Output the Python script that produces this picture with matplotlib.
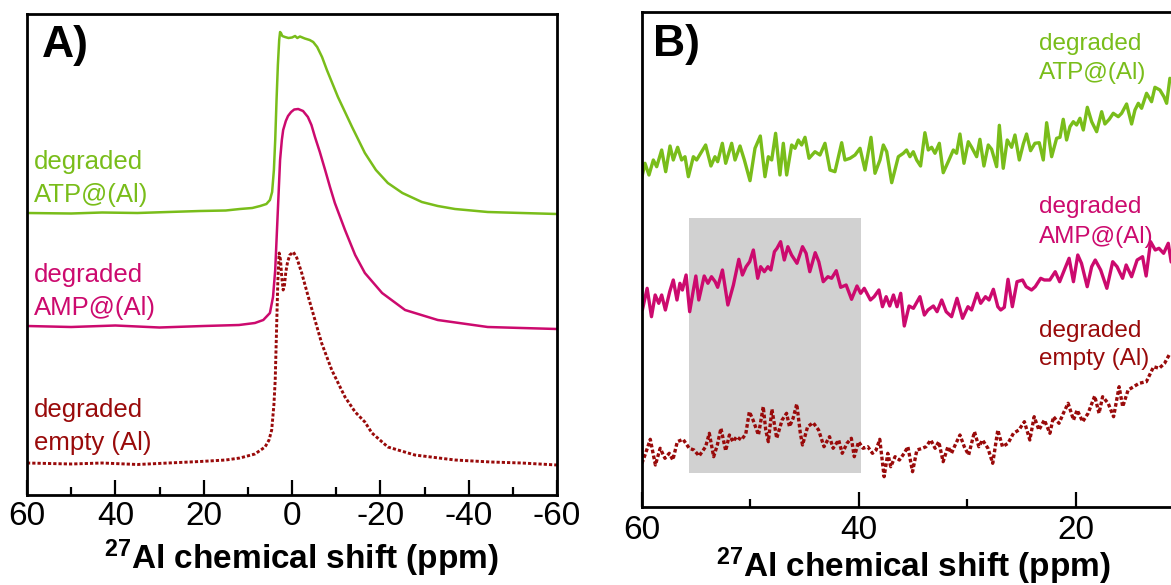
import matplotlib
matplotlib.use("Agg")
import matplotlib.pyplot as plt
from matplotlib.patches import Rectangle
from matplotlib.ticker import MultipleLocator

plt.rcParams['font.family'] = ['Liberation Sans', 'DejaVu Sans']
plt.rcParams['mathtext.fontset'] = 'custom'
plt.rcParams['mathtext.rm'] = 'Liberation Sans'
plt.rcParams['mathtext.bf'] = 'Liberation Sans:bold'
plt.rcParams['lines.solid_joinstyle'] = 'round'
plt.rcParams['lines.solid_capstyle'] = 'round'

# ---------------- colours ----------------
c_atp = '#79BD1A'
c_amp = '#CC0A6E'
c_emp = '#990A0A'

# ---------------- Panel A data (ppm, intensity incl. stacking offset) ----------------
a_atp_ppm = [60, 50, 43, 35, 28, 20.8, 15, 11.8, 9, 7.2, 5.8, 5.0, 4.5, 4.1, 3.8, 3.5, 3.2, 2.9,
             2.7, 2.5, 2.2, 1.6, 0.8, 0.0, -0.7, -1.2, -1.8, -2.9, -4.0, -4.8, -5.7, -6.8, -7.9,
             -10.4, -13.6, -16.5, -19.0, -21.7, -25.0, -29.4, -33, -36.9, -44.3, -52, -60]
a_atp_int = [282, 281.5, 282.5, 282, 283, 284, 284.5, 286, 287, 289, 291, 295, 303, 325, 355, 395, 430, 455,
             463, 462, 459, 458, 457, 457.5, 459, 457, 458.5, 456.5, 455, 453, 448, 438, 425,
             398, 368, 342, 325, 312, 302, 293, 289, 286, 283, 282, 281]

a_amp_ppm = [60, 50, 40, 30, 20, 12, 8.4, 6.5, 5.0, 4.3, 3.8, 3.5, 3.2, 2.7, 2.3, 2.0, 1.4, 0.9, 0.2,
             -0.5, -1.4, -2.5, -3.6, -4.4, -5.2, -6.3, -7.5, -8.6, -9.7, -12.0, -14.3, -16.5, -20.4,
             -25.6, -33.0, -44.3, -52, -60]
a_amp_int = [169, 168, 169.5, 167.5, 169, 170, 172, 175, 182, 198, 225, 255, 285, 335, 355, 365, 374, 379, 383,
             385.5, 386, 384, 378, 370, 358, 343, 325, 308, 292, 265, 240, 222, 202,
             185, 175, 168, 167, 166]

a_emp_ppm = [60, 50, 43, 35, 28, 20.8, 15, 11.8, 8.4, 6.1, 5.2, 4.6, 4.1, 3.8, 3.5, 3.2, 2.9, 2.6, 2.3,
             2.0, 1.7, 1.4, 1.0, 0.5, -0.3, -1.1, -2.2, -3.7, -5.2, -6.7, -9.0, -12.0, -14.3, -16.5,
             -18.1, -21.7, -27.8, -36.9, -45, -52, -60]
a_emp_int = [32, 31, 32, 30.5, 32, 33.5, 35, 37, 41, 48, 55, 65, 90, 115, 165, 215, 242, 235, 217,
             205, 210, 223, 233, 240, 243, 237, 222, 198, 175, 152, 125, 98, 83, 73,
             62, 48, 40, 35, 33, 32, 30]

# ---------------- Panel B data (zoomed region) ----------------
b_atp_ppm = [59.99, 59.68, 59.31, 58.91, 58.6, 58.14, 57.77, 57.37, 57.07, 56.67, 56.3, 55.99, 55.68, 55.22,
             54.92, 54.09, 53.6, 53.23, 52.98, 52.55, 52.24, 51.69, 51.38, 50.92, 50.52, 50.0, 49.54,
             49.05, 48.62, 48.31, 48.0, 47.64, 47.24, 46.93, 46.62, 46.16, 45.85, 45.55, 45.24, 44.93,
             44.56, 44.01, 43.55, 43.09, 42.63, 42.17, 41.55, 41.25, 40.78, 40.32, 39.86, 39.4, 38.85,
             38.48, 38.02, 37.71, 37.4, 36.94, 36.33, 35.87,
             35.57, 35.26, 34.95, 34.64, 34.28, 33.88, 33.57, 33.26, 32.95, 32.55, 32.19, 31.73, 31.26,
             30.96, 30.65, 30.28, 29.88, 29.57, 29.11, 28.81, 28.44, 28.04, 27.73, 27.27, 27.02, 26.66,
             26.29, 25.89, 25.58, 25.18, 24.81, 24.51, 24.14, 23.74, 23.34, 22.97, 22.66, 22.2, 21.74,
             21.43, 21.13, 20.82, 20.51, 20.2, 19.9, 19.59, 19.28, 18.91, 18.51, 18.05, 17.59, 17.29,
             16.89, 16.52, 16.06, 15.75, 15.29, 14.83, 14.52, 14.21, 13.91, 13.45, 12.99, 12.68, 12.22,
             11.85, 11.6, 11.3]
b_atp_int = [328.7, 343.7, 332, 347, 340.3, 357, 335.3, 361, 347, 359.7, 347, 350.3, 330.3, 350.3,
             347, 362, 341, 350.3, 345.3, 363.7, 343.7, 363.7, 347, 361, 347, 326.3, 358.7,
             371, 330.3, 350.3, 347, 373.7, 332, 363.7, 332, 362, 358.7, 367, 362, 369.7,
             348.7, 355.3, 352, 363.7, 337, 335.3, 364.3, 347, 348.7, 352, 358.7, 337, 369.7,
             333.7, 347, 362, 355.3, 324.3, 350.3, 353.7,
             357, 350.3, 355.3, 347, 341, 374.3, 357, 359.7, 353.7, 363.7, 334.3, 345.3, 357,
             353.7, 373, 343.7, 365.3, 359.7, 350.3, 367.7, 341, 362, 357.7, 340.3, 381.7, 338.7,
             367, 359.7, 372, 347, 363, 373, 356.3, 363.7, 364.3, 347, 384.3, 350.3, 368.7,
             369.7, 387.7, 367, 380.3, 385.3, 382, 388.7, 377, 399.7, 385.3, 375.3, 395.3, 383,
             387.7, 393.7, 390.3, 393.7, 403, 383, 397, 403.7, 398.7, 413.7, 405.3, 419.7, 417,
             410.3, 403.7, 428.7]

b_amp_ppm = [59.92, 59.48, 59.08, 58.74, 58.41, 58.14, 57.8, 57.4, 57.07, 56.73, 56.46, 56.23, 55.89, 55.56,
             55.22, 54.99, 54.72, 54.22, 53.88, 53.55, 53.21, 52.98, 52.54, 52.04, 51.53, 51.03, 50.7,
             50.36, 50.03, 49.69, 49.29, 49.02, 48.68, 48.35, 48.08, 47.75, 47.51, 47.18, 46.84, 46.51,
             46.17, 45.67, 45.16, 44.83, 44.49, 43.99, 43.66, 43.25, 42.82, 42.48, 42.05, 41.64, 41.14,
             40.64, 40.14, 39.8, 39.47, 38.9, 38.56, 38.12, 37.79, 37.45, 37.12, 36.78, 36.45, 36.11,
             35.78, 35.34, 34.94, 34.34, 33.93, 33.6, 33.1, 32.76, 32.33, 31.92, 31.42, 30.92, 30.41,
             29.91, 29.58, 29.07, 28.74, 28.3, 27.97, 27.57, 27.16, 26.89, 26.56, 26.22, 25.82, 25.39,
             24.88, 24.55, 24.05, 23.71, 23.21, 22.87, 22.37, 21.87, 21.46, 21.03, 20.59, 20.19, 19.79,
             19.45, 18.92, 18.51, 18.18, 17.68, 17.11, 16.57, 16.17, 15.66, 15.33, 14.83, 14.32, 13.82,
             13.49, 13.08, 12.65, 12.31, 11.88, 11.45, 11.18]
b_amp_int = [197, 218.7, 190.3, 212, 203.7, 212, 197, 215.3, 227, 207, 223.7, 217, 232, 195.3,
             217, 231, 207, 231, 223.7, 230.3, 225.3, 219.7, 237, 202, 222, 247.7, 232,
             240.3, 245.3, 257, 228.7, 240.3, 235.3, 240.3, 237, 255.3, 258.7, 265.3, 247, 260.3,
             252, 243.7, 260.3, 253.7, 235.3, 254.3, 245.3, 225.3, 230.3, 228.7, 236.3, 219.7, 222,
             207.7, 221, 213.7, 218.7, 207, 210.3, 217, 200.3, 210.3, 201, 212, 200.3, 213.7,
             181, 201, 198.7, 210.3, 192, 197, 201, 195.3, 207, 195.3, 190.3, 208.7, 188.7,
             200.3, 197, 213.7, 203.7, 210.3, 207, 217.7, 200.3, 197, 199.7, 227.7, 200.3, 225.3,
             227, 220.3, 217, 220.3, 228.7, 227, 227, 235.3, 225.3, 237, 248.7, 225.3, 252,
             243.7, 220.3, 240.3, 247, 237, 218.7, 245.3, 240.3, 228.7, 242, 230.3, 247, 250.3,
             231, 265.3, 257, 258.7, 253.7, 263.7, 245]

b_emp_ppm = [59.96, 59.62, 59.19, 58.72, 58.28, 57.84, 57.44, 57.11, 56.7, 56.17, 55.6, 55.16, 54.69, 54.09,
             53.75, 53.35, 53.01, 52.68, 52.24, 51.9, 51.57, 51.23, 50.8, 50.39, 50.06, 49.72, 49.22,
             48.78, 48.55, 48.31, 47.98, 47.54, 47.04, 46.63, 46.36, 46.03, 45.69, 45.36, 45.16, 44.69,
             44.18, 43.68, 43.18, 42.67, 42.34, 41.83, 41.5, 41.06, 40.66, 40.39, 39.99, 39.58, 39.15,
             38.71, 38.38, 38.04, 37.64, 37.3, 37.03, 36.63, 36.23, 35.79, 35.45, 35.02, 34.62, 34.11,
             33.78, 33.34, 32.94, 32.6, 32.2, 31.76, 31.43, 31.09, 30.65, 30.25, 29.85, 29.31, 28.91,
             28.57, 28.07, 27.63, 27.16, 26.73, 26.22, 25.72, 25.22, 24.71, 24.21, 23.81, 23.37, 22.87,
             22.36, 22.03, 21.52, 21.12, 20.68, 20.18, 19.85, 19.34, 18.84, 18.23, 17.83, 17.5, 16.99,
             16.49, 15.98, 15.65, 15.15, 14.64, 14.14, 13.47, 12.8, 12.29, 11.79, 11.29]
b_emp_int = [43.7, 53.7, 67.7, 42, 58.7, 48.7, 53.7, 47, 65.3, 67.7, 58.7, 57, 51, 60.3,
             73.7, 50.3, 62, 78.7, 56.3, 72, 65.3, 70.3, 67, 73, 95.3, 87, 72,
             100.3, 77, 65.3, 97.7, 68.7, 87, 93.7, 80.3, 88.7, 103, 73.7, 62, 80.3,
             84.3, 77, 60.3, 70.3, 58.7, 67, 53.7, 63.7, 68.7, 50.3, 65.3, 58.7, 60.3,
             53.7, 57, 67.7, 30.3, 53.7, 40.3, 50.3, 47, 53.7, 60.3, 35.3, 57, 58.7,
             60.3, 67, 58.7, 65.3, 45.3, 60.3, 53.7, 62, 72, 60.3, 52, 75.3, 60.3,
             67, 58.7, 43.7, 77, 60.3, 63.7, 73.7, 77, 85.3, 67, 90.3, 77, 87,
             73.7, 90.3, 83.7, 93.7, 103.7, 87, 97, 85.3, 93.7, 111, 93.7, 110.3, 103.7,
             90.3, 120.3, 100.3, 117, 120.3, 123.7, 125.3, 140.3, 138.7, 143.7, 153.7]

highlight_ppm = (55.6, 39.8)
highlight_int = (34, 289)

labels = [("degraded", "ATP@(Al)", c_atp),
          ("degraded", "AMP@(Al)", c_amp),
          ("degraded", "empty (Al)", c_emp)]

W, H = 1171, 585
fig = plt.figure(figsize=(W / 100, H / 100), dpi=100)

# axes rectangles in pixels (left, top, right, bottom)
axA = fig.add_axes([27 / W, 1 - 495 / H, 530 / W, 481 / H])
axB = fig.add_axes([641.5 / W, 1 - 507 / H, 542.5 / W, 495 / H])

dots = (0, (1.1, 0.7))

axA.plot(a_atp_ppm, a_atp_int, color=c_atp, lw=1.8)
axA.plot(a_amp_ppm, a_amp_int, color=c_amp, lw=1.8)
axA.plot(a_emp_ppm, a_emp_int, color=c_emp, lw=2.1, linestyle=dots)
axA.set_xlim(60, -60)
axA.set_ylim(0, 481)

axB.add_patch(Rectangle((highlight_ppm[1], highlight_int[0]), highlight_ppm[0] - highlight_ppm[1],
                        highlight_int[1] - highlight_int[0], facecolor='#D1D1D1', edgecolor='none', zorder=0))
axB.plot(b_atp_ppm, b_atp_int, color=c_atp, lw=2.4)
axB.plot(b_amp_ppm, b_amp_int, color=c_amp, lw=2.4)
axB.plot(b_emp_ppm, b_emp_int, color=c_emp, lw=2.4, linestyle=dots)
axB.set_xlim(60, 10)
axB.set_ylim(0, 495)

for ax in (axA, axB):
    ax.xaxis.set_major_locator(MultipleLocator(20))
    ax.xaxis.set_minor_locator(MultipleLocator(10))
    ax.set_yticks([])
    ax.tick_params(axis='x', which='major', direction='in', length=11, width=1.6, labelsize=24, pad=4)
    ax.tick_params(axis='x', which='minor', direction='in', length=5.5, width=1.6)
    for s in ax.spines.values():
        s.set_linewidth(2.0)
    ax.set_xticklabels([f"{int(t)}" for t in ax.get_xticks()])

axB.tick_params(axis='x', which='major', pad=6)

xl = r'$\mathbf{^{27}}$Al chemical shift (ppm)'
axA.set_xlabel(xl, fontsize=24, fontweight='bold')
axA.xaxis.set_label_coords(0.517, (495 - 569) / 481)
axA.xaxis.label.set_va('baseline')
axB.set_xlabel(xl, fontsize=24, fontweight='bold')
axB.xaxis.set_label_coords(0.5005, (507 - 577) / 495)
axB.xaxis.label.set_va('baseline')

axA.text((42 - 27) / 530, (495 - 57) / 481, "A)", transform=axA.transAxes, fontsize=32,
         fontweight='bold', ha='left', va='baseline')
axB.text((653 - 641.5) / 542.5, (507 - 56) / 495, "B)", transform=axB.transAxes, fontsize=32,
         fontweight='bold', ha='left', va='baseline')

# label positions (pixel baselines)
a_base = [(169, 202), (282, 315), (417, 450)]
b_base = [(50, 79.5), (212.5, 242.5), (337.5, 365.5)]
for (l1, l2, col), (y1, y2) in zip(labels, a_base):
    for txt, yy in ((l1, y1), (l2, y2)):
        axA.text((34 - 27) / 530, (495 - yy) / 481, txt, transform=axA.transAxes, fontsize=18.5,
                 color=col, ha='left', va='baseline')
for (l1, l2, col), (y1, y2) in zip(labels, b_base):
    for txt, yy in ((l1, y1), (l2, y2)):
        axB.text((1039 - 641.5) / 542.5, (507 - yy) / 495, txt, transform=axB.transAxes, fontsize=17.5,
                 color=col, ha='left', va='baseline')

fig.savefig("out.png", dpi=100)
